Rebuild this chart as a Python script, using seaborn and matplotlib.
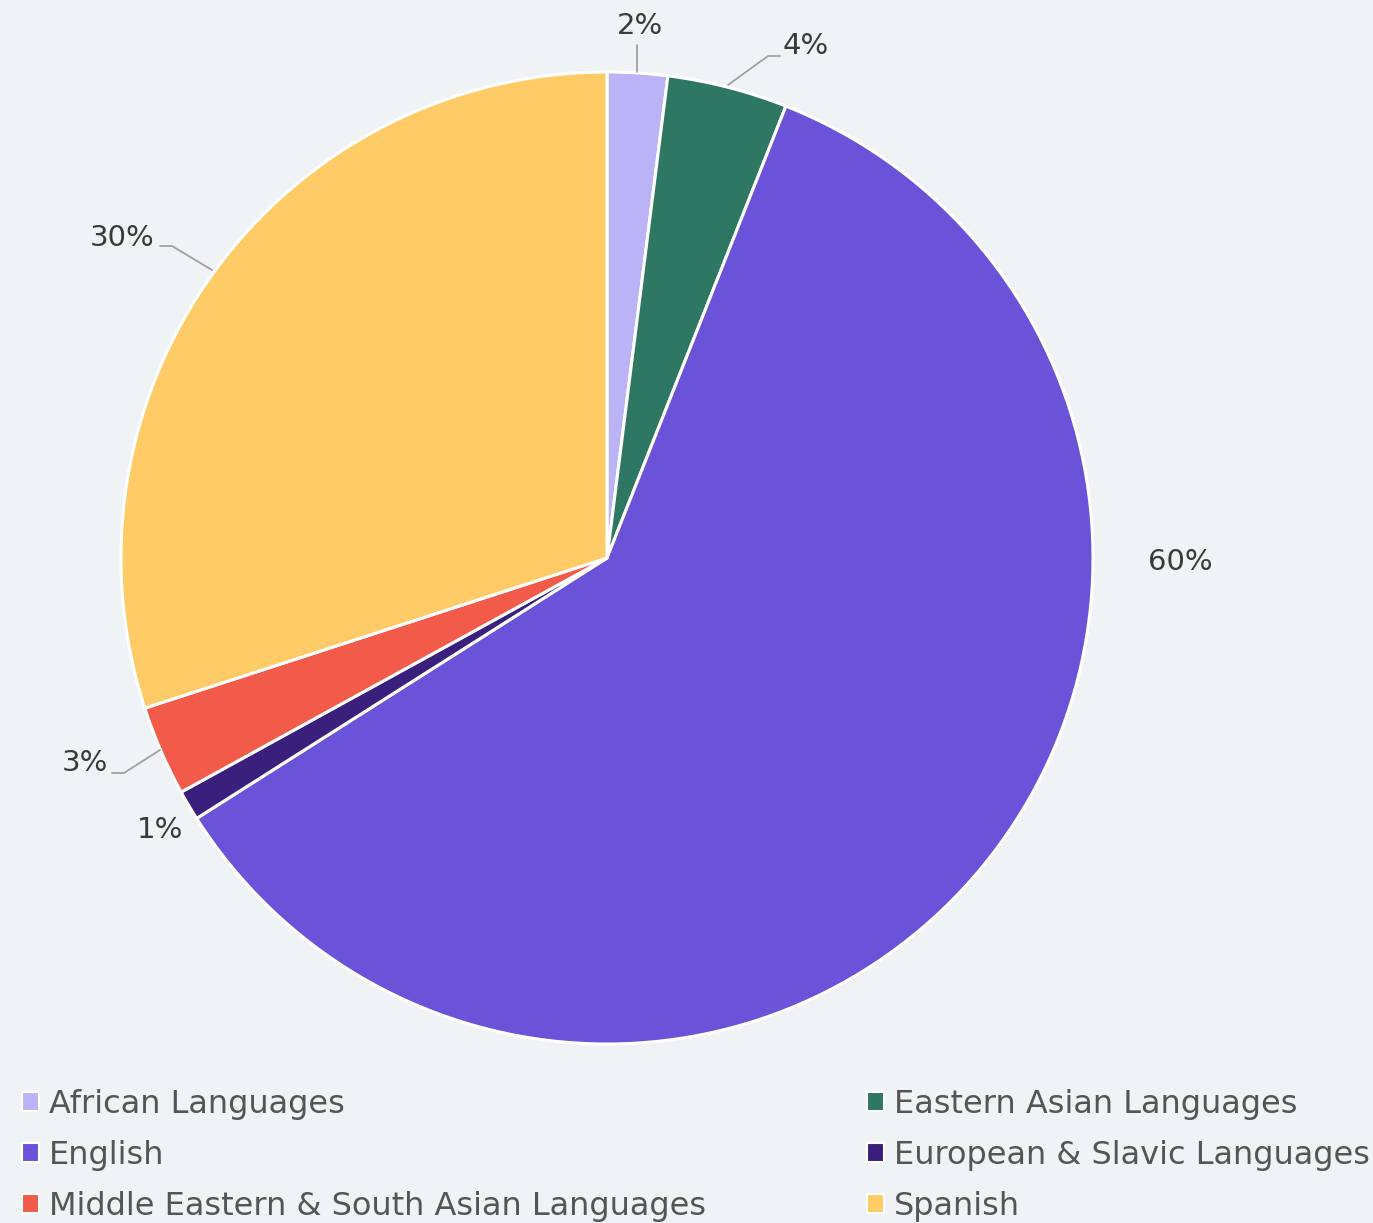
import matplotlib
matplotlib.use("Agg")
import matplotlib.pyplot as plt
import seaborn as sns
from matplotlib.patches import Patch
from matplotlib.lines import Line2D

categories = ["African Languages", "Eastern Asian Languages", "English",
              "European & Slavic Languages", "Middle Eastern & South Asian Languages", "Spanish"]
values = [2, 4, 60, 1, 3, 30]
labels = ["2%", "4%", "60%", "1%", "3%", "30%"]
colors = ["#bab4f6", "#2e7763", "#6a52d9", "#3a1f7c", "#f25a4a", "#fecb66"]

BG = "#f0f3f6"
W, H = 1373, 1223

sns.set_theme(style="white")
plt.rcParams["font.family"] = ["DejaVu Sans"]

fig = plt.figure(figsize=(W / 100, H / 100), dpi=100, facecolor=BG)
cx, cy, R = 607, 558, 486
ax = fig.add_axes([(cx - R) / W, (H - cy - R) / H, 2 * R / W, 2 * R / H])
ax.set_facecolor(BG)
wedges, _ = ax.pie(values, colors=colors, startangle=90, counterclock=False,
                   radius=1.0, wedgeprops=dict(edgecolor="white", linewidth=2.2))
ax.set_xlim(-1, 1)
ax.set_ylim(-1, 1)
ax.set_aspect("equal")
ax.axis("off")


def fp(x, y):
    return (x / W, 1 - y / H)


# label positions (pixels) and leader lines
label_pos = [(640, 26), (806, 46), (1180, 562), (160, 830), (85, 763), (122, 238)]
leaders = [
    [(637, 72), (637, 45)],
    [(728, 85), (768, 56), (780, 56)],
    None,
    None,
    [(160, 750), (124, 773), (112, 773)],
    [(212, 270), (172, 246), (160, 246)],
]
for lab, pos, ld in zip(labels, label_pos, leaders):
    fig.text(*fp(*pos), lab, ha="center", va="center", fontsize=21, color="#3a3a3a")
    if ld:
        xs, ys = zip(*[fp(*p) for p in ld])
        fig.add_artist(Line2D(xs, ys, transform=fig.transFigure, color="#a0a0a0", lw=1.3))

# legend in two columns
left_idx = [0, 2, 4]
right_idx = [1, 3, 5]


def handles(idx):
    return [Patch(facecolor=colors[i], edgecolor="white", linewidth=1.5, label=categories[i]) for i in idx]


common = dict(frameon=False, fontsize=23, handlelength=0.55, handleheight=0.55,
              handletextpad=0.3, labelspacing=0.63, labelcolor="#555555", borderaxespad=0)
leg1 = fig.legend(handles=handles(left_idx), loc="upper left", bbox_to_anchor=fp(9, 1076), **common)
leg2 = fig.legend(handles=handles(right_idx), loc="upper left", bbox_to_anchor=fp(854, 1076), **common)

fig.savefig("out.png", dpi=100, facecolor=BG)
